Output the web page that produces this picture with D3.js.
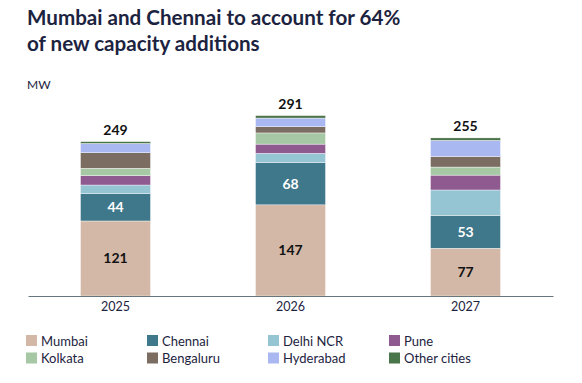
<!DOCTYPE html>
<html><head><meta charset="utf-8">
<script src="https://cdn.jsdelivr.net/npm/d3@7/dist/d3.min.js"></script>
<style>body{margin:0;background:#fff;}svg{display:block;font-family:Lato,"Noto Sans",sans-serif;}</style>
</head><body>
<svg id="c" width="582" height="383"></svg>
<script>
const years = ["2025", "2026", "2027"];
const cities = ["Mumbai", "Chennai", "Delhi NCR", "Pune", "Kolkata", "Bengaluru", "Hyderabad", "Other cities"];
const mumbai = [121, 147, 77];
const chennai = [44, 68, 53];
const delhi = [14, 15, 41];
const pune = [15, 15, 24];
const kolkata = [12, 18, 13];
const bengaluru = [25, 10, 17];
const hyderabad = [15, 14, 26];
const other = [3, 4, 4];
const totals = [249, 291, 255];
const colors = ["#d3b8a7", "#3f788a", "#95c4d3", "#8e5a8f", "#a6c8a4", "#7b6d62", "#a9b8f0", "#4a7449"];
const seriesVals = [mumbai, chennai, delhi, pune, kolkata, bengaluru, hyderabad, other];

const rows = years.map((y, i) => {
  const r = {year: y};
  cities.forEach((c, j) => r[c] = seriesVals[j][i]);
  return r;
});

const svg = d3.select("#c");
const x = d3.scaleBand().domain(years).range([28, 553]).paddingInner(0.6).paddingOuter(0.3);
const y = d3.scaleLinear().domain([0, 300]).range([296, 296 - 300 * 0.62]);
const stack = d3.stack().keys(cities)(rows);
const color = d3.scaleOrdinal().domain(cities).range(colors);

// Title
const title = svg.append("text").attr("x", 27).attr("fill", "#1c2340")
  .style("font-size", "20.6px").style("font-weight", 700);
title.append("tspan").attr("x", 27).attr("y", 25).text("Mumbai and Chennai to account for 64%");
title.append("tspan").attr("x", 27).attr("y", 51).text("of new capacity additions");

svg.append("text").attr("x", 27).attr("y", 89).attr("fill", "#1c2340")
  .style("font-size", "12px").text("MW");

const g = svg.append("g");
stack.forEach(layer => {
  g.selectAll(null).data(layer).join("rect")
    .attr("x", d => x(d.data.year))
    .attr("width", x.bandwidth())
    .attr("y", d => y(d[1]))
    .attr("height", d => y(d[0]) - y(d[1]))
    .attr("fill", color(layer.key))
    .attr("stroke", "#ffffff").attr("stroke-width", 0.4);
});

// segment labels for Mumbai and Chennai
[[0, "#111"], [1, "#fff"]].forEach(([k, col]) => {
  g.selectAll(null).data(stack[k]).join("text")
    .attr("x", d => x(d.data.year) + x.bandwidth() / 2)
    .attr("y", d => (y(d[0]) + y(d[1])) / 2 + 5)
    .attr("text-anchor", "middle").attr("fill", col)
    .style("font-size", "14px").style("font-weight", 700)
    .text(d => d[1] - d[0]);
});

// totals
g.selectAll(null).data(years).join("text")
  .attr("x", d => x(d) + x.bandwidth() / 2)
  .attr("y", (d, i) => y(totals[i]) - 7)
  .attr("text-anchor", "middle").attr("fill", "#111")
  .style("font-size", "14px").style("font-weight", 700)
  .text((d, i) => totals[i]);

// axis
const ax = svg.append("g").attr("transform", "translate(0,296)")
  .call(d3.axisBottom(x).tickSize(0).tickPadding(6));
ax.select(".domain").attr("stroke", "#66767c").attr("stroke-width", 1.2);
ax.selectAll("text").attr("fill", "#1c2340").style("font-size", "12.5px")
  .style("font-family", "Lato,'Noto Sans',sans-serif");

// legend
const lg = svg.append("g");
cities.forEach((c, i) => {
  const col = i % 4, row = Math.floor(i / 4);
  const lx = 26 + col * 121, ly = 335 + row * 17.5;
  lg.append("rect").attr("x", lx).attr("y", ly).attr("width", 11).attr("height", 11).attr("fill", colors[i]);
  lg.append("text").attr("x", lx + 15).attr("y", ly + 10.5).attr("fill", "#1c2340")
    .style("font-size", "13px").text(c);
});
</script>
</body></html>
